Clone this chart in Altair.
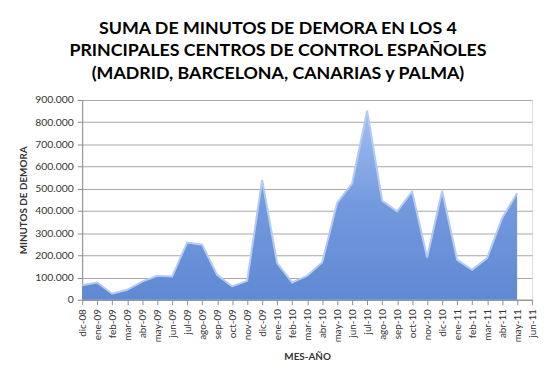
import altair as alt
import pandas as pd

months = ["dic-08", "ene-09", "feb-09", "mar-09", "abr-09", "may-09", "jun-09",
          "jul-09", "ago-09", "sep-09", "oct-09", "nov-09", "dic-09", "ene-10",
          "feb-10", "mar-10", "abr-10", "may-10", "jun-10", "jul-10", "ago-10",
          "sep-10", "oct-10", "nov-10", "dic-10", "ene-11", "feb-11", "mar-11",
          "abr-11", "may-11", "jun-11"]
minutos = [65000, 78000, 27000, 45000, 82000, 108000, 105000, 258000, 248000,
           112000, 60000, 85000, 540000, 165000, 78000, 108000, 168000, 436000,
           525000, 852000, 446000, 398000, 488000, 190000, 491000, 180000,
           135000, 188000, 368000, 480000]
y_ticks = list(range(0, 900001, 100000))

df = pd.DataFrame({"mes": months[:len(minutos)], "minutos": minutos})

font = "Lato"
x_enc = alt.X("mes:O", scale=alt.Scale(domain=months, type="point", padding=0),
              axis=alt.Axis(title="MES-AÑO", labelAngle=-90, labelFontSize=10,
                            labelColor="#333333", labelFont=font, labelPadding=4,
                            titleFont=font, titleFontSize=10, titleFontWeight="bold",
                            titleColor="#333333", titlePadding=10,
                            domainColor="#8c8c8c", tickColor="#8c8c8c", tickSize=5,
                            grid=False))
y_enc = alt.Y("minutos:Q", scale=alt.Scale(domain=[0, 900000]),
              axis=alt.Axis(title="MINUTOS DE DEMORA", values=y_ticks,
                            labelExpr="replace(format(datum.value, ','), regexp(',', 'g'), '.')",
                            labelFontSize=10.5, labelColor="#333333", labelFont=font,
                            labelPadding=4,
                            titleFont=font, titleFontSize=10, titleFontWeight="bold",
                            titleColor="#333333", titlePadding=6,
                            domainColor="#8c8c8c", tickColor="#8c8c8c", tickSize=5,
                            gridColor="#a6a6a6", gridWidth=1))

grad = alt.Gradient(gradient="linear", x1=0, x2=0, y1=0, y2=1,
                    stops=[alt.GradientStop(color="#a3bff0", offset=0),
                           alt.GradientStop(color="#7399de", offset=0.5),
                           alt.GradientStop(color="#6089d4", offset=1)])

area = alt.Chart(df).mark_area(color=grad, opacity=1).encode(x=x_enc, y=y_enc)
line = alt.Chart(df).mark_line(color="#b4cbf2", strokeWidth=2).encode(x=x_enc, y=y_enc)

chart = (area + line).properties(
    width=455, height=202,
    title=alt.TitleParams(
        text=["SUMA DE MINUTOS DE DEMORA EN LOS 4",
              "PRINCIPALES CENTROS DE CONTROL ESPAÑOLES",
              "(MADRID, BARCELONA, CANARIAS y PALMA)"],
        font=font, fontSize=18, fontWeight="bold", color="#000000",
        anchor="middle", frame="bounds", lineHeight=23, offset=12),
    padding={"left": 10, "top": 10, "right": 5, "bottom": 5},
).configure_view(stroke=None).configure(background="white")

chart.save("out.html", embed_options={"renderer": "svg", "actions": False})
